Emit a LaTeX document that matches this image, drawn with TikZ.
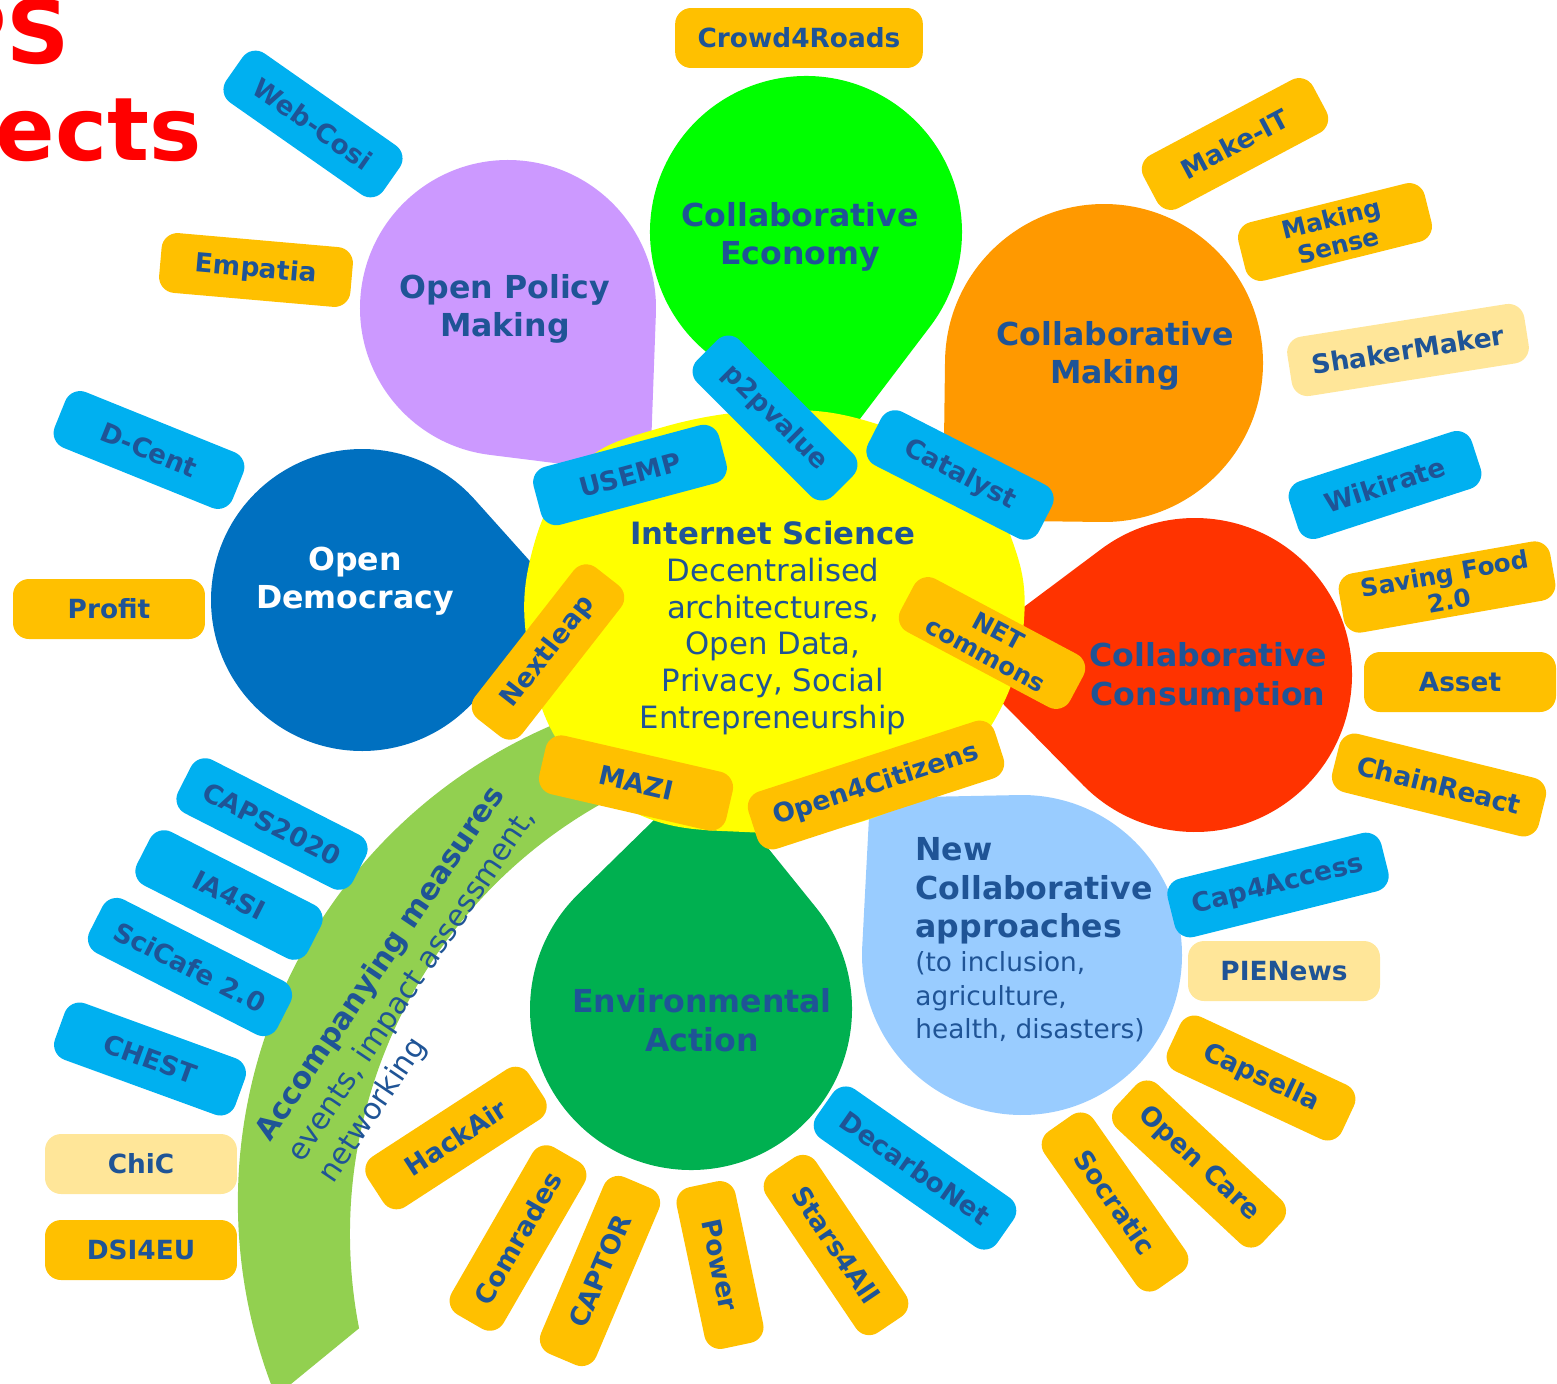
\documentclass[tikz,border=0pt]{standalone}
\usepackage{fontspec}
\setmainfont{DejaVu Sans}
\usetikzlibrary{calc}

\definecolor{ink}{RGB}{31,84,150}
\definecolor{skyc}{RGB}{0,176,240}
\definecolor{goldc}{RGB}{255,192,0}
\definecolor{palec}{RGB}{255,230,153}
\definecolor{limec}{RGB}{0,255,0}
\definecolor{lilac}{RGB}{204,153,255}
\definecolor{orangec}{RGB}{255,153,0}
\definecolor{redc}{RGB}{255,51,0}
\definecolor{navyc}{RGB}{0,112,192}
\definecolor{leafc}{RGB}{0,176,80}
\definecolor{icec}{RGB}{153,204,255}
\definecolor{sunc}{RGB}{255,255,0}
\definecolor{grassc}{RGB}{146,208,80}
\definecolor{titlec}{RGB}{255,0,0}

\newcommand{\lblfont}{\fontsize{15}{17}\selectfont\bfseries}
\newcommand{\twofont}{\fontsize{14}{15.5}\selectfont\bfseries}
\newcommand{\blobfont}{\fontsize{18}{22}\selectfont\bfseries}
\newcommand{\bodyfont}{\fontsize{17.5}{21}\selectfont}

% colour, centre x, centre y, radius, tip x, tip y
\newcommand{\teardrop}[6]{%
  \pgfmathsetmacro\dropang{atan2(#6-#3,#5-#2)}%
  \pgfmathsetmacro\dropdist{veclen(#5-#2,#6-#3)}%
  \pgfmathsetmacro\dropopen{acos(#4/\dropdist)}%
  \pgfmathsetmacro\dropa{\dropang+\dropopen}%
  \pgfmathsetmacro\dropb{\dropang+360-\dropopen}%
  \fill[#1] (#5,#6) -- ($(#2,#3)+(\dropa:#4)$)
    arc[start angle=\dropa, end angle=\dropb, radius=#4] -- cycle;
}

\tikzset{
  lbl/.style={rounded corners=0.32cm, minimum width=3.84cm, minimum height=1.2cm,
    inner xsep=0.45cm, inner ysep=1pt, text=ink, font=\lblfont, align=center},
  bluelbl/.style={lbl, fill=skyc},
  goldlbl/.style={lbl, fill=goldc},
  palelbl/.style={lbl, fill=palec},
  blobtxt/.style={text=ink, font=\blobfont, align=center, inner sep=0pt},
  titletxt/.style={text=titlec, font=\fontsize{50}{56}\selectfont\bfseries, inner sep=0pt},
}

\begin{document}
\begin{tikzpicture}[x=0.02cm, y=-0.02cm]
    \useasboundingbox (0,0) rectangle (1557,1383);
    \clip (0,0) rectangle (1557,1383);

    \node[titletxt, anchor=base east] (titlea) at (70,63) {CAPS};
    \node[titletxt, anchor=base east] (titleb) at (202,160) {Projects};

    \fill[grassc] ($(757,1202)+(158:519)$) arc[start angle=158, end angle=247, radius=519]
      -- ($(844,1234)+(245:494)$) arc[start angle=245, end angle=169, radius=494] -- cycle;

    \teardrop{limec}{806}{232}{156}{850}{432}
    \teardrop{lilac}{508}{308}{148}{650}{475}
    \teardrop{orangec}{1104}{363}{159}{943}{520}
    \teardrop{redc}{1195}{675}{157}{957}{657}
    \teardrop{navyc}{362}{600}{151}{572}{608}
    \teardrop{leafc}{691}{1009}{161}{705}{770}
    \teardrop{icec}{1022}{955}{160}{870}{798}

    \fill[sunc] plot[smooth cycle, tension=0.7] coordinates {(530,560) (575,470) (660,428)
      (780,410) (880,425) (970,470) (1012,540) (1024,620) (1000,710) (940,780) (850,825)
      (745,832) (640,815) (565,752) (530,660)};

    \node[blobtxt] (econ) at (800,237) {Collaborative\\Economy};
    \node[blobtxt] (policy) at (505,309) {Open Policy\\Making};
    \node[blobtxt] (making) at (1115,356) {Collaborative\\Making};
    \node[blobtxt] (consum) at (1208,677) {Collaborative\\Consumption};
    \node[blobtxt, text=white] (democ) at (355,581) {Open\\Democracy};
    \node[blobtxt] (envir) at (702,1020) {Environmental\\Action};
    \node[blobtxt, anchor=west, align=left] (newcol) at (915,891) {New\\Collaborative\\approaches};
    \node[anchor=west, align=left, inner sep=0pt, text=ink, font=\fontsize{15}{19}\selectfont]
      (newsub) at (915,997) {(to inclusion,\\agriculture,\\health, disasters)};
    \node[text=ink, font=\bodyfont, align=center, inner sep=0pt] (inet) at (773,628)
      {{\bfseries Internet Science}\\Decentralised\\architectures,\\Open Data,\\Privacy, Social\\Entrepreneurship};
    \node[text=ink, font=\fontsize{17}{21.5}\selectfont, align=left, inner sep=0pt, rotate=56, anchor=west]
      (accomp) at (295,1159) {{\bfseries Accompanying measures}\\events, impact assessment,\\networking};

    \node[goldlbl] (crowd) at (799,38) {Crowd4Roads};
    \node[bluelbl, rotate=-35] (webcosi) at (313,124) {Web-Cosi};
    \node[goldlbl, rotate=-5] (empatia) at (256,270) {Empatia};
    \node[bluelbl, rotate=-22] (dcent) at (149,450) {D-Cent};
    \node[goldlbl] (profit) at (109,609) {Profit};
    \node[bluelbl, rotate=15] (usemp) at (630,475) {USEMP};
    \node[bluelbl, rotate=-45] (ptwop) at (775,418) {p2pvalue};
    \node[bluelbl, rotate=-27] (catalyst) at (960,475) {Catalyst};
    \node[goldlbl, rotate=28] (makeit) at (1235,144) {Make-IT};
    \node[goldlbl, rotate=14, font=\twofont] (sense) at (1335,232) {Making\\Sense};
    \node[palelbl, rotate=9] (shaker) at (1408,350) {ShakerMaker};
    \node[bluelbl, rotate=18] (wikirate) at (1385,485) {Wikirate};
    \node[goldlbl, rotate=10, font=\twofont] (food) at (1447,587) {Saving Food\\2.0};
    \node[goldlbl] (asset) at (1460,682) {Asset};
    \node[goldlbl, rotate=-14] (chain) at (1439,785) {ChainReact};
    \node[goldlbl, rotate=52] (nextleap) at (548,652) {Nextleap};
    \node[goldlbl, rotate=-28, font=\twofont] (netcom) at (992,643) {NET\\commons};
    \node[goldlbl, rotate=-13] (mazi) at (636,783) {MAZI};
    \node[goldlbl, rotate=18] (ofc) at (876,785) {Open4Citizens};
    \node[bluelbl, rotate=-27] (capsnode) at (272,824) {CAPS2020};
    \node[bluelbl, rotate=-27] (iafsi) at (229,895) {IA4SI};
    \node[bluelbl, rotate=-27] (scicafe) at (190,967) {SciCafe 2.0};
    \node[bluelbl, rotate=-20] (chest) at (150,1059) {CHEST};
    \node[palelbl] (chic) at (141,1164) {ChiC};
    \node[goldlbl] (dsi) at (141,1250) {DSI4EU};
    \node[goldlbl, rotate=33] (hackair) at (456,1138) {HackAir};
    \node[goldlbl, rotate=60] (comrades) at (518,1238) {Comrades};
    \node[goldlbl, rotate=67] (captor) at (600,1271) {CAPTOR};
    \node[goldlbl, rotate=-78, minimum width=3.3cm] (power) at (720,1265) {Power};
    \node[goldlbl, rotate=-56] (stars) at (836,1245) {Stars4All};
    \node[bluelbl, rotate=-35] (decarbo) at (915,1168) {DecarboNet};
    \node[goldlbl, rotate=-55] (socratic) at (1115,1202) {Socratic};
    \node[goldlbl, rotate=-43] (opencare) at (1199,1164) {Open Care};
    \node[goldlbl, rotate=-25] (capsella) at (1261,1078) {Capsella};
    \node[palelbl] (pienews) at (1284,971) {PIENews};
    \node[bluelbl, rotate=14] (capacc) at (1278,885) {Cap4Access};
\end{tikzpicture}
\end{document}
